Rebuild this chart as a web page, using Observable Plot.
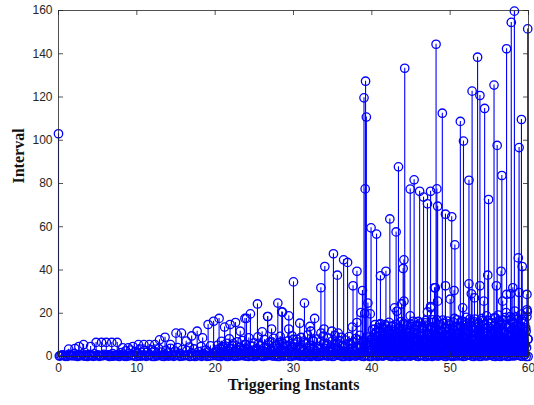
<!DOCTYPE html>
<html><head><meta charset="utf-8">
<script src="https://cdn.jsdelivr.net/npm/d3@7"></script>
<script src="https://cdn.jsdelivr.net/npm/@observablehq/plot@0.6"></script>
<style>body{margin:0;background:#fff}</style>
</head><body><div id="chart"></div><script>
// Tick labels
const xTicks = [0, 10, 20, 30, 40, 50, 60];
const yTicks = [0, 20, 40, 60, 80, 100, 120, 140, 160];

// Large intervals
const peakInstants = [0, 39.0, 39.2, 39.3, 39.15, 39.9, 40.6, 42.3, 43.1, 43.4, 44.2, 44.9, 45.4, 46.1, 46.6, 47.1, 47.5, 48.2, 48.3, 48.4, 49.0, 49.4, 50.2, 50.6, 51.3, 51.7, 52.4, 52.8, 53.5, 53.8, 54.4, 54.9, 55.6, 56.0, 56.6, 57.2, 57.8, 58.2, 58.8, 59.1, 59.9, 58.7, 59.2, 44.1, 35.1, 36.4, 36.9, 34.0];
const peakIntervals = [103, 119.6, 127.3, 110.7, 77.5, 59.5, 56.6, 63.6, 57.6, 87.7, 133.3, 77.4, 81.7, 76.4, 73.7, 70.6, 76.4, 144.4, 77.5, 69.5, 112.5, 65.8, 64.6, 51.6, 108.7, 99.6, 81.5, 122.7, 138.4, 120.7, 114.7, 72.6, 125.5, 97.6, 83.7, 142.3, 154.5, 159.7, 96.6, 109.6, 151.5, 45.6, 41.6, 44.7, 47.5, 44.7, 43.5, 41.6];

// Medium intervals
const midInstants = [1.3, 2.1, 2.6, 3.2, 4.1, 4.8, 5.5, 6.1, 6.8, 7.5, 8.2, 8.9, 9.5, 10.2, 10.9, 11.6, 12.3, 12.9, 13.6, 14.3, 15.0, 15.7, 16.3, 17.0, 17.7, 18.4, 19.1, 19.8, 20.5, 21.2, 21.9, 22.6, 23.2, 24.0, 24.5, 25.4, 26.0, 26.7, 27.2, 28.0, 28.5, 29.4, 30.0, 30.8, 31.4, 32.1, 32.7, 33.5, 33.9, 34.9, 35.6, 35.7, 37.5, 37.6, 38.1, 38.1, 38.6, 38.8, 39.1, 39.5, 39.8, 41.0, 41.1, 41.7, 41.8, 42.9, 43.2, 43.8, 44.0, 44.1, 44.9, 47.1, 47.5, 47.5, 48.0, 48.1, 48.4, 49.4, 50.0, 50.5, 51.6, 52.4, 52.7, 53.1, 53.8, 54.3, 54.8, 55.9, 56.5, 56.7, 57.2, 57.7, 58.0, 58.8, 59.8, 59.8, 27.2, 28.5, 29.4, 30.0, 31.3, 32.2, 33.5, 23.8, 26.7, 28.6];
const midIntervals = [3.4, 3.7, 4.6, 5.5, 4.6, 6.5, 6.5, 6.5, 6.5, 6.5, 4.0, 4.0, 4.6, 5.5, 5.5, 5.5, 5.5, 7.7, 8.9, 5.5, 10.8, 10.8, 7.1, 9.5, 11.7, 8.6, 14.8, 16.3, 17.6, 13.6, 14.8, 15.7, 11.7, 17.6, 19.7, 24.3, 11.4, 18.5, 12.7, 24.7, 20.6, 18.8, 34.5, 15.4, 24.7, 13.9, 17.6, 31.8, 12.7, 11.7, 37.6, 10.8, 13.6, 32.7, 15.7, 39.4, 20.3, 30.5, 20.0, 24.7, 19.7, 14.8, 37.3, 14.8, 39.4, 22.5, 20.9, 24.3, 40.7, 25.6, 18.8, 20.6, 23.1, 22.5, 31.8, 31.8, 25.6, 32.7, 26.5, 30.5, 22.5, 33.6, 29.0, 27.1, 32.7, 25.6, 37.6, 32.7, 39.4, 25.6, 28.7, 29.0, 31.8, 29.6, 28.7, 21.6, 6.8, 6.8, 12.7, 8.0, 7.1, 11.7, 10.8, 17.6, 18.5, 20.5];

// Small intervals, 0 to 20
const lowInstantsA = [0.2, 0.5, 0.9, 1.3, 1.7, 2.0, 2.4, 2.8, 3.1, 3.5, 3.9, 4.3, 4.6, 5.0, 5.4, 5.8, 6.2, 6.5, 6.9, 7.3, 7.7, 8.0, 8.3, 8.6, 8.9, 9.2, 9.5, 9.8, 10.1, 10.4, 10.7, 11.0, 11.3, 11.6, 11.9, 12.2, 12.5, 12.8, 13.1, 13.4, 13.7, 14.0, 14.3, 14.6, 14.9, 15.2, 15.5, 15.8, 16.1, 16.4, 16.7, 17.0, 17.3, 17.6, 17.9, 18.2, 18.5, 18.8, 19.1, 19.4, 19.7];
const lowIntervalsA = [0.4, 0.8, 0.3, 1.0, 0.5, 1.3, 0.7, 0.4, 1.1, 0.6, 0.9, 0.3, 1.2, 0.7, 0.5, 1.0, 0.4, 0.8, 1.3, 0.6, 1.0, 1.8, 0.5, 2.6, 1.2, 3.0, 0.7, 2.2, 1.5, 3.4, 0.6, 2.8, 1.9, 0.9, 3.1, 2.4, 1.1, 3.6, 2.0, 0.8, 2.9, 1.6, 3.8, 1.0, 2.5, 4.1, 1.4, 3.2, 0.7, 2.7, 4.4, 1.7, 3.5, 0.9, 2.3, 4.6, 1.3, 3.0, 2.0, 4.9, 1.5];

// Small intervals, 20 to 40
const lowInstantsB = [20.1, 20.3, 20.45, 20.6, 20.8, 20.95, 21.1, 21.3, 21.45, 21.6, 21.8, 21.95, 22.1, 22.3, 22.45, 22.6, 22.8, 22.95, 23.1, 23.3, 23.45, 23.6, 23.8, 23.95, 24.1, 24.3, 24.45, 24.6, 24.8, 24.95, 25.1, 25.3, 25.45, 25.6, 25.8, 25.95, 26.1, 26.3, 26.45, 26.6, 26.8, 26.95, 27.1, 27.3, 27.45, 27.6, 27.8, 27.95, 28.1, 28.3, 28.45, 28.6, 28.8, 28.95, 29.1, 29.3, 29.45, 29.6, 29.8, 29.95, 30.1, 30.3, 30.45, 30.6, 30.8, 30.95, 31.1, 31.3, 31.45, 31.6, 31.8, 31.95, 32.1, 32.3, 32.45, 32.6, 32.8, 32.95, 33.1, 33.3, 33.45, 33.6, 33.8, 33.95, 34.1, 34.3, 34.45, 34.6, 34.8, 34.95, 35.1, 35.3, 35.45, 35.6, 35.8, 35.95, 36.1, 36.3, 36.45, 36.6, 36.8, 36.95, 37.1, 37.3, 37.45, 37.6, 37.8, 37.95, 38.1, 38.3, 38.45, 38.6, 38.8, 38.95, 39.1, 39.3, 39.45, 39.6, 39.8, 39.95];
const lowIntervalsB = [2.1, 5.2, 0.6, 3.8, 7.0, 1.4, 4.5, 0.9, 6.1, 2.7, 8.2, 1.2, 3.6, 5.9, 0.5, 2.4, 6.8, 1.7, 4.2, 0.8, 7.4, 3.1, 1.3, 5.5, 2.2, 8.6, 0.7, 4.8, 2.9, 6.3, 1.0, 3.7, 9.1, 1.8, 5.0, 0.6, 2.6, 7.8, 1.5, 4.1, 0.9, 6.6, 3.3, 1.1, 8.4, 2.5, 5.4, 0.7, 3.9, 9.3, 1.6, 6.0, 2.8, 0.5, 4.7, 7.2, 1.9, 3.4, 9.6, 0.8, 5.7, 2.3, 7.9, 1.2, 4.4, 8.8, 0.6, 3.0, 6.5, 1.7, 9.9, 2.6, 5.1, 0.9, 7.5, 3.5, 1.4, 8.1, 4.6, 0.7, 6.9, 2.0, 9.4, 3.8, 1.1, 5.8, 8.5, 2.4, 0.8, 7.1, 4.0, 9.7, 1.5, 6.2, 3.2, 0.6, 8.9, 4.9, 2.1, 7.6, 1.0, 5.6, 9.2, 3.6, 0.9, 6.7, 2.7, 8.3, 4.3, 1.3, 9.8, 5.3, 2.2, 7.3, 0.5, 4.5, 9.0, 1.9, 6.4, 3.1];
const lowInstantsD = [20.2, 20.55, 20.9, 21.2, 21.55, 21.85, 22.2, 22.55, 22.85, 23.2, 23.55, 23.85, 24.2, 24.55, 24.85, 25.2, 25.55, 25.85, 26.2, 26.55, 26.85, 27.2, 27.55, 27.85, 28.2, 28.55, 28.85, 29.2, 29.55, 29.85, 30.2, 30.55, 30.85, 31.2, 31.55, 31.85, 32.2, 32.55, 32.85, 33.2, 33.55, 33.85, 34.2, 34.55, 34.85, 35.2, 35.55, 35.85, 36.2, 36.55, 36.85, 37.2, 37.55, 37.85, 38.2, 38.55, 38.85, 39.2, 39.55, 39.85];
const lowIntervalsD = [3.1, 1.5, 4.4, 2.2, 0.8, 3.7, 5.0, 1.9, 2.9, 4.1, 1.2, 5.6, 3.3, 2.0, 4.7, 1.0, 6.1, 2.6, 3.9, 1.4, 5.3, 2.3, 4.6, 0.9, 6.4, 3.0, 1.8, 5.1, 2.7, 4.2, 1.3, 6.7, 3.5, 2.1, 5.8, 1.6, 4.0, 7.0, 2.4, 3.6, 1.1, 6.2, 4.9, 2.8, 1.7, 5.5, 3.2, 7.3, 2.0, 4.5, 1.2, 6.0, 3.8, 2.5, 7.6, 4.3, 1.9, 5.9, 3.4, 6.5];

// Small intervals, 40 to 60
const lowInstantsC = [40.05, 40.15, 40.25, 40.35, 40.45, 40.55, 40.65, 40.75, 40.85, 40.95, 41.05, 41.15, 41.25, 41.35, 41.45, 41.55, 41.65, 41.75, 41.85, 41.95, 42.05, 42.15, 42.25, 42.35, 42.45, 42.55, 42.65, 42.75, 42.85, 42.95, 43.05, 43.15, 43.25, 43.35, 43.45, 43.55, 43.65, 43.75, 43.85, 43.95, 44.05, 44.15, 44.25, 44.35, 44.45, 44.55, 44.65, 44.75, 44.85, 44.95, 45.05, 45.15, 45.25, 45.35, 45.45, 45.55, 45.65, 45.75, 45.85, 45.95, 46.05, 46.15, 46.25, 46.35, 46.45, 46.55, 46.65, 46.75, 46.85, 46.95, 47.05, 47.15, 47.25, 47.35, 47.45, 47.55, 47.65, 47.75, 47.85, 47.95, 48.05, 48.15, 48.25, 48.35, 48.45, 48.55, 48.65, 48.75, 48.85, 48.95, 49.05, 49.15, 49.25, 49.35, 49.45, 49.55, 49.65, 49.75, 49.85, 49.95, 50.05, 50.15, 50.25, 50.35, 50.45, 50.55, 50.65, 50.75, 50.85, 50.95, 51.05, 51.15, 51.25, 51.35, 51.45, 51.55, 51.65, 51.75, 51.85, 51.95, 52.05, 52.15, 52.25, 52.35, 52.45, 52.55, 52.65, 52.75, 52.85, 52.95, 53.05, 53.15, 53.25, 53.35, 53.45, 53.55, 53.65, 53.75, 53.85, 53.95, 54.05, 54.15, 54.25, 54.35, 54.45, 54.55, 54.65, 54.75, 54.85, 54.95, 55.05, 55.15, 55.25, 55.35, 55.45, 55.55, 55.65, 55.75, 55.85, 55.95, 56.05, 56.15, 56.25, 56.35, 56.45, 56.55, 56.65, 56.75, 56.85, 56.95, 57.05, 57.15, 57.25, 57.35, 57.45, 57.55, 57.65, 57.75, 57.85, 57.95, 58.05, 58.15, 58.25, 58.35, 58.45, 58.55, 58.65, 58.75, 58.85, 58.95, 59.05, 59.15, 59.25, 59.35, 59.45, 59.55, 59.65, 59.75, 59.85, 59.95];
const lowIntervalsC = [3.2, 8.4, 1.1, 12.6, 5.7, 0.6, 9.3, 2.8, 6.4, 11.2, 1.7, 4.9, 13.5, 0.8, 7.6, 3.5, 10.1, 5.2, 1.3, 8.9, 12.0, 2.4, 6.8, 0.7, 9.7, 4.1, 14.2, 1.9, 7.3, 3.0, 11.6, 5.5, 0.9, 8.2, 2.6, 13.1, 6.1, 1.4, 10.6, 4.4, 15.3, 0.6, 7.9, 3.3, 12.4, 5.9, 1.6, 9.5, 2.2, 14.8, 6.6, 0.8, 11.0, 4.7, 8.6, 1.2, 13.9, 3.8, 7.0, 16.2, 2.0, 9.9, 5.3, 0.7, 12.8, 4.2, 8.0, 1.5, 15.6, 6.3, 3.1, 10.7, 0.9, 7.7, 13.4, 2.5, 5.8, 17.0, 1.1, 9.1, 4.6, 12.2, 0.6, 6.9, 14.5, 2.9, 8.8, 1.8, 11.4, 5.0, 16.8, 0.8, 7.4, 3.6, 13.0, 9.6, 1.3, 5.6, 15.1, 2.3, 10.3, 6.5, 0.7, 12.9, 4.0, 17.6, 8.3, 1.6, 6.0, 14.0, 2.7, 10.9, 0.9, 7.2, 16.4, 4.5, 12.5, 1.4, 8.7, 3.4, 18.1, 6.2, 0.6, 11.8, 5.1, 15.9, 2.1, 9.4, 13.6, 1.0, 7.8, 17.3, 3.9, 10.5, 0.8, 14.7, 6.7, 2.6, 12.1, 8.5, 1.2, 16.6, 4.8, 11.3, 0.7, 7.1, 18.8, 3.2, 9.8, 13.8, 1.9, 6.4, 15.4, 0.9, 10.8, 4.3, 17.9, 8.1, 2.4, 12.7, 5.4, 19.2, 1.1, 9.0, 14.3, 3.7, 7.5, 16.9, 0.6, 11.5, 6.1, 20.3, 2.8, 13.3, 8.9, 1.5, 18.4, 4.9, 10.2, 15.7, 0.8, 7.0, 21.0, 3.5, 12.3, 9.2, 17.2, 1.7, 5.7, 14.1, 19.6, 2.2, 10.4, 6.8, 16.0, 0.9, 13.2, 4.1, 20.7, 8.0];
const lowInstantsE = [40.0, 40.1, 40.2, 40.3, 40.4, 40.5, 40.6, 40.7, 40.8, 40.9, 41.0, 41.1, 41.2, 41.3, 41.4, 41.5, 41.6, 41.7, 41.8, 41.9, 42.0, 42.1, 42.2, 42.3, 42.4, 42.5, 42.6, 42.7, 42.8, 42.9, 43.0, 43.1, 43.2, 43.3, 43.4, 43.5, 43.6, 43.7, 43.8, 43.9, 44.0, 44.1, 44.2, 44.3, 44.4, 44.5, 44.6, 44.7, 44.8, 44.9, 45.0, 45.1, 45.2, 45.3, 45.4, 45.5, 45.6, 45.7, 45.8, 45.9, 46.0, 46.1, 46.2, 46.3, 46.4, 46.5, 46.6, 46.7, 46.8, 46.9, 47.0, 47.1, 47.2, 47.3, 47.4, 47.5, 47.6, 47.7, 47.8, 47.9, 48.0, 48.1, 48.2, 48.3, 48.4, 48.5, 48.6, 48.7, 48.8, 48.9, 49.0, 49.1, 49.2, 49.3, 49.4, 49.5, 49.6, 49.7, 49.8, 49.9, 50.0, 50.1, 50.2, 50.3, 50.4, 50.5, 50.6, 50.7, 50.8, 50.9, 51.0, 51.1, 51.2, 51.3, 51.4, 51.5, 51.6, 51.7, 51.8, 51.9, 52.0, 52.1, 52.2, 52.3, 52.4, 52.5, 52.6, 52.7, 52.8, 52.9, 53.0, 53.1, 53.2, 53.3, 53.4, 53.5, 53.6, 53.7, 53.8, 53.9, 54.0, 54.1, 54.2, 54.3, 54.4, 54.5, 54.6, 54.7, 54.8, 54.9, 55.0, 55.1, 55.2, 55.3, 55.4, 55.5, 55.6, 55.7, 55.8, 55.9, 56.0, 56.1, 56.2, 56.3, 56.4, 56.5, 56.6, 56.7, 56.8, 56.9, 57.0, 57.1, 57.2, 57.3, 57.4, 57.5, 57.6, 57.7, 57.8, 57.9, 58.0, 58.1, 58.2, 58.3, 58.4, 58.5, 58.6, 58.7, 58.8, 58.9, 59.0, 59.1, 59.2, 59.3, 59.4, 59.5, 59.6, 59.7, 59.8, 59.9];
const lowIntervalsE = [8.2, 12.5, 6.4, 10.1, 14.7, 7.6, 11.2, 5.5, 9.4, 13.3, 7.1, 15.2, 6.9, 10.8, 8.0, 12.9, 5.8, 9.7, 14.1, 7.3, 11.6, 8.5, 15.8, 6.1, 10.4, 13.7, 8.6, 5.3, 12.2, 9.1, 7.8, 14.9, 10.6, 6.6, 13.0, 7.9, 11.4, 16.1, 5.6, 9.9, 12.7, 7.0, 15.0, 8.4, 10.9, 5.9, 14.4, 7.3, 11.8, 6.7, 9.5, 13.9, 7.5, 16.3, 8.8, 12.1, 6.3, 10.2, 14.6, 7.7, 11.1, 5.4, 15.5, 9.2, 7.1, 13.4, 8.1, 12.6, 6.0, 16.6, 10.5, 7.0, 14.2, 9.8, 5.7, 12.4, 8.9, 15.7, 7.4, 11.3, 13.8, 6.5, 10.0, 16.9, 7.6, 12.0, 9.3, 14.8, 5.2, 11.7, 8.3, 15.3, 7.7, 13.1, 10.3, 6.2, 16.4, 9.6, 12.3, 7.4, 14.5, 5.9, 11.0, 8.7, 15.9, 7.2, 13.6, 10.7, 6.8, 17.0, 9.0, 12.8, 7.2, 14.0, 5.6, 11.5, 16.2, 8.5, 13.2, 7.6, 10.4, 15.1, 6.4, 12.6, 9.4, 17.3, 7.8, 14.3, 5.8, 11.9, 8.0, 16.0, 7.0, 13.5, 10.1, 6.6, 15.4, 9.9, 12.0, 7.1, 17.5, 5.5, 11.3, 14.7, 8.2, 7.9, 13.0, 10.6, 16.7, 6.3, 9.2, 12.9, 7.5, 15.6, 5.3, 11.6, 14.0, 8.6, 17.8, 7.4, 10.8, 13.3, 6.7, 16.5, 9.1, 12.2, 7.9, 15.0, 5.7, 11.1, 18.0, 8.4, 14.4, 7.3, 10.2, 13.7, 6.1, 16.8, 9.7, 12.5, 7.3, 15.7, 5.9, 11.4, 18.3, 8.9, 14.2, 7.7, 10.0, 13.1, 6.5, 17.1, 9.5, 12.8, 7.0, 15.3, 5.4, 11.7, 18.5, 8.1];

// Near-zero intervals along the whole run
const baseInstants = [0.1, 0.6, 1.15, 1.6, 2.2, 2.7, 3.25, 3.7, 4.2, 4.75, 5.2, 5.7, 6.25, 6.7, 7.2, 7.75, 8.2, 8.7, 9.25, 9.7, 10.2, 10.75, 11.2, 11.7, 12.25, 12.7, 13.2, 13.75, 14.2, 14.7, 15.25, 15.7, 16.2, 16.75, 17.2, 17.7, 18.25, 18.7, 19.2, 19.75, 20.2, 20.7, 21.25, 21.7, 22.2, 22.75, 23.2, 23.7, 24.25, 24.7, 25.2, 25.75, 26.2, 26.7, 27.25, 27.7, 28.2, 28.75, 29.2, 29.7, 30.25, 30.7, 31.2, 31.75, 32.2, 32.7, 33.25, 33.7, 34.2, 34.75, 35.2, 35.7, 36.25, 36.7, 37.2, 37.75, 38.2, 38.7, 39.25, 39.7, 40.2, 40.75, 41.2, 41.7, 42.25, 42.7, 43.2, 43.75, 44.2, 44.7, 45.25, 45.7, 46.2, 46.75, 47.2, 47.7, 48.25, 48.7, 49.2, 49.75, 50.2, 50.7, 51.25, 51.7, 52.2, 52.75, 53.2, 53.7, 54.25, 54.7, 55.2, 55.75, 56.2, 56.7, 57.25, 57.7, 58.2, 58.75, 59.2, 59.7];
const baseIntervals = [0.2, 0.5, 0.1, 0.4, 0.3, 0.6, 0.2, 0.0, 0.5, 0.3, 0.1, 0.4, 0.6, 0.2, 0.3, 0.0, 0.5, 0.1, 0.4, 0.2, 0.6, 0.3, 0.1, 0.5, 0.0, 0.4, 0.2, 0.6, 0.3, 0.1, 0.5, 0.2, 0.4, 0.0, 0.6, 0.3, 0.1, 0.5, 0.2, 0.4, 0.3, 0.0, 0.6, 0.1, 0.5, 0.2, 0.4, 0.3, 0.0, 0.6, 0.2, 0.5, 0.1, 0.4, 0.3, 0.6, 0.0, 0.2, 0.5, 0.1, 0.4, 0.3, 0.6, 0.2, 0.0, 0.5, 0.1, 0.4, 0.3, 0.6, 0.2, 0.5, 0.0, 0.4, 0.1, 0.3, 0.6, 0.2, 0.5, 0.0, 0.4, 0.1, 0.3, 0.6, 0.2, 0.5, 0.0, 0.4, 0.1, 0.3, 0.6, 0.2, 0.5, 0.1, 0.4, 0.0, 0.3, 0.6, 0.2, 0.5, 0.1, 0.4, 0.3, 0.0, 0.6, 0.2, 0.5, 0.1, 0.4, 0.3, 0.6, 0.0, 0.2, 0.5, 0.1, 0.4, 0.3, 0.6, 0.2, 0.0];
const baseInstants2 = [0.35, 0.85, 1.4, 1.9, 2.45, 2.95, 3.5, 3.95, 4.45, 5.0, 5.45, 5.95, 6.5, 6.95, 7.45, 8.0, 8.45, 8.95, 9.5, 9.95, 10.45, 11.0, 11.45, 11.95, 12.5, 12.95, 13.45, 14.0, 14.45, 14.95, 15.5, 15.95, 16.45, 17.0, 17.45, 17.95, 18.5, 18.95, 19.45, 20.0, 20.45, 20.95, 21.5, 21.95, 22.45, 23.0, 23.45, 23.95, 24.5, 24.95, 25.45, 26.0, 26.45, 26.95, 27.5, 27.95, 28.45, 29.0, 29.45, 29.95, 30.5, 30.95, 31.45, 32.0, 32.45, 32.95, 33.5, 33.95, 34.45, 35.0, 35.45, 35.95, 36.5, 36.95, 37.45, 38.0, 38.45, 38.95, 39.5, 39.95, 40.45, 41.0, 41.45, 41.95, 42.5, 42.95, 43.45, 44.0, 44.45, 44.95, 45.5, 45.95, 46.45, 47.0, 47.45, 47.95, 48.5, 48.95, 49.45, 50.0, 50.45, 50.95, 51.5, 51.95, 52.45, 53.0, 53.45, 53.95, 54.5, 54.95, 55.45, 56.0, 56.45, 56.95, 57.5, 57.95, 58.45, 59.0, 59.45, 59.95];
const baseIntervals2 = [0.4, 0.1, 0.6, 0.3, 0.0, 0.5, 0.2, 0.4, 0.1, 0.6, 0.3, 0.5, 0.0, 0.2, 0.4, 0.6, 0.1, 0.3, 0.5, 0.0, 0.2, 0.6, 0.4, 0.1, 0.3, 0.5, 0.0, 0.2, 0.6, 0.4, 0.1, 0.3, 0.5, 0.2, 0.0, 0.6, 0.4, 0.1, 0.3, 0.5, 0.2, 0.6, 0.0, 0.4, 0.1, 0.3, 0.5, 0.2, 0.6, 0.0, 0.4, 0.1, 0.3, 0.5, 0.2, 0.0, 0.6, 0.4, 0.1, 0.3, 0.5, 0.2, 0.0, 0.6, 0.4, 0.1, 0.3, 0.5, 0.2, 0.0, 0.6, 0.4, 0.1, 0.3, 0.5, 0.2, 0.6, 0.0, 0.4, 0.1, 0.3, 0.5, 0.2, 0.6, 0.0, 0.4, 0.1, 0.3, 0.5, 0.2, 0.6, 0.0, 0.4, 0.1, 0.3, 0.5, 0.2, 0.6, 0.0, 0.4, 0.1, 0.3, 0.5, 0.2, 0.6, 0.0, 0.4, 0.1, 0.3, 0.5, 0.2, 0.6, 0.0, 0.4, 0.1, 0.3, 0.5, 0.2, 0.6, 0.0];

const rows = [];
function addSeries(ts, vs) { ts.forEach((t, i) => { if (vs[i] !== undefined) rows.push({ t, v: vs[i] }); }); }
addSeries(baseInstants, baseIntervals);
addSeries(baseInstants2, baseIntervals2);
addSeries(lowInstantsA, lowIntervalsA);
addSeries(lowInstantsB, lowIntervalsB);
addSeries(lowInstantsD, lowIntervalsD);
addSeries(lowInstantsC, lowIntervalsC);
addSeries(lowInstantsE, lowIntervalsE);
addSeries(midInstants, midIntervals);
addSeries(peakInstants, peakIntervals);

const W = 534, H = 405, mL = 58, mR = 6, mT = 10, mB = 49;
const plotH = H - mT - mB, plotW = W - mL - mR;
const blue = "#0000ff", axisColor = "#262626";

const chart = Plot.plot({
  width: W, height: H,
  marginLeft: mL, marginRight: mR, marginTop: mT, marginBottom: mB,
  style: { fontFamily: "'Liberation Sans', Arial, sans-serif", fontSize: "12px", color: axisColor, background: "#fff", overflow: "visible" },
  x: { domain: [0, 60], ticks: xTicks, tickSize: 0, tickPadding: 7, label: null },
  y: { domain: [0, 160], ticks: yTicks, tickSize: 0, tickPadding: 6, label: null },
  marks: [
    Plot.ruleX(rows, { x: "t", y1: 0, y2: "v", stroke: blue, strokeWidth: 1.1 }),
    Plot.dot(rows, { x: "t", y: "v", r: 4.2, stroke: blue, strokeWidth: 1.3, fill: "none" }),
    Plot.frame({ stroke: axisColor, strokeWidth: 0.8 }),
    Plot.tickX(xTicks, { x: d => d, insetTop: plotH - 5, stroke: axisColor, strokeWidth: 0.8 }),
    Plot.tickX(xTicks, { x: d => d, insetBottom: plotH - 5, stroke: axisColor, strokeWidth: 0.8 }),
    Plot.tickY(yTicks, { y: d => d, insetRight: plotW - 5, stroke: axisColor, strokeWidth: 0.8 }),
    Plot.tickY(yTicks, { y: d => d, insetLeft: plotW - 5, stroke: axisColor, strokeWidth: 0.8 }),
    Plot.text(["Triggering Instants"], { frameAnchor: "bottom", dy: 33, fontFamily: "'Liberation Serif', 'Times New Roman', serif", fontWeight: "bold", fontSize: 16, fill: "#111" }),
    Plot.text(["Interval"], { frameAnchor: "left", dx: -40, rotate: -90, fontFamily: "'Liberation Serif', 'Times New Roman', serif", fontWeight: "bold", fontSize: 16, fill: "#111" })
  ]
});
document.getElementById("chart").appendChild(chart);
</script></body></html>
